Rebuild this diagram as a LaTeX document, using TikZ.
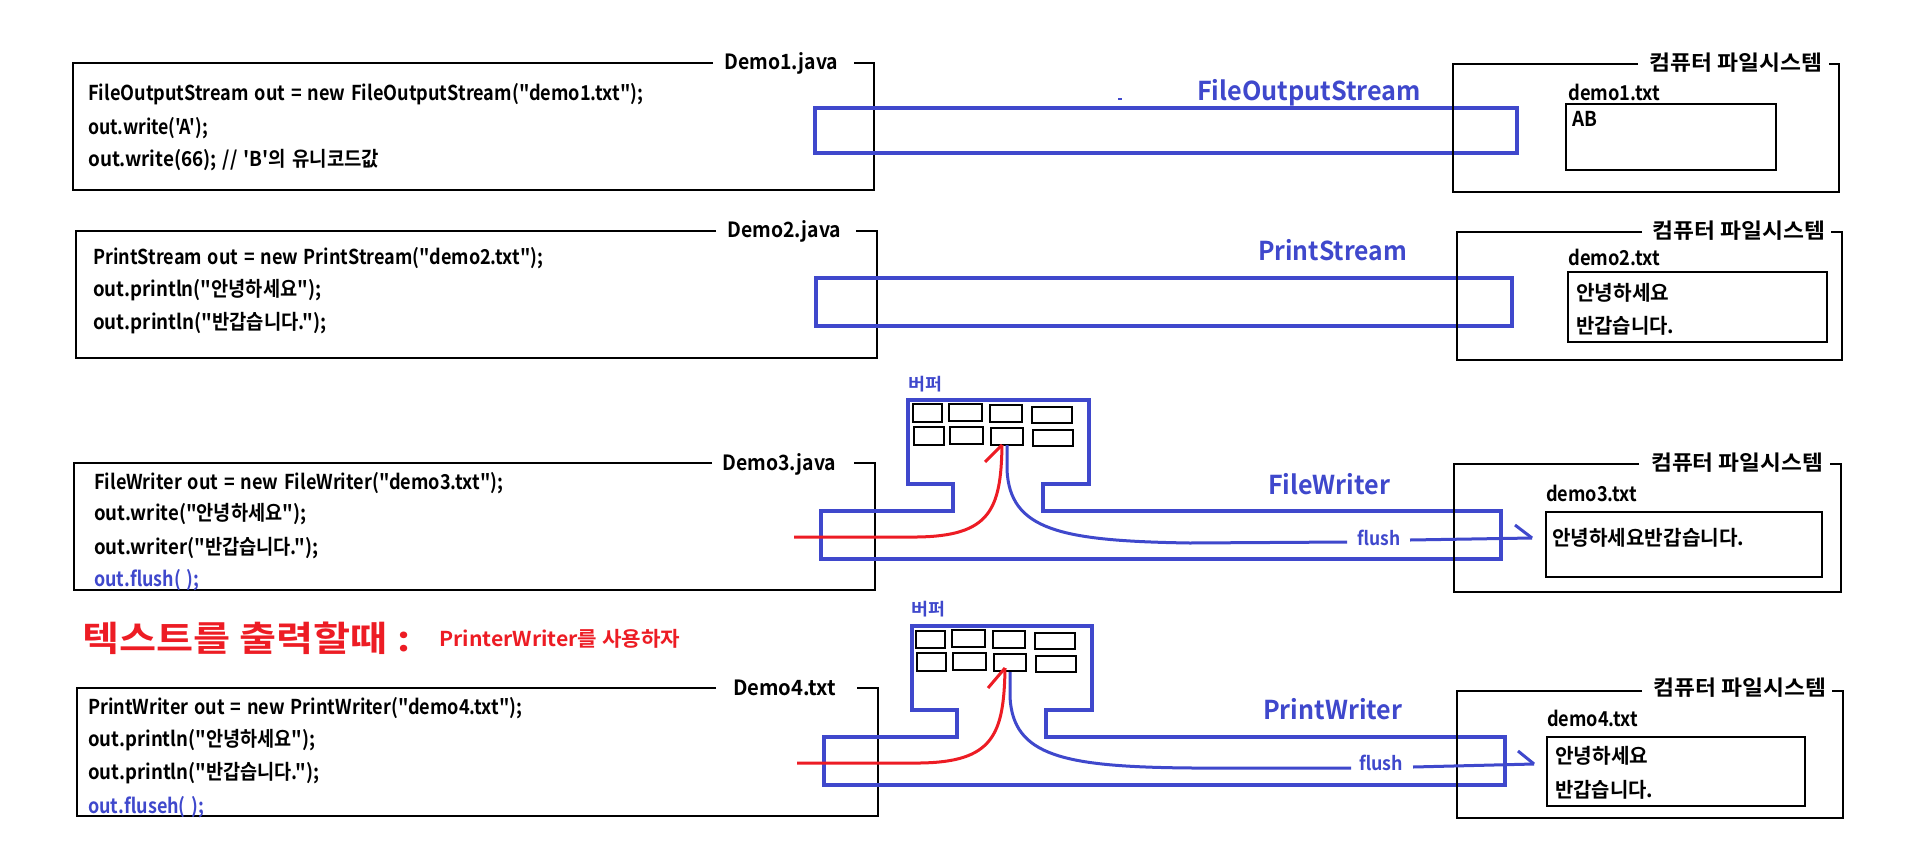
\documentclass[tikz,border=0pt]{standalone}
\usepackage{fontspec}
\usepackage{graphicx}
\newfontfamily\kr{Noto Sans CJK KR}[BoldFont={Noto Sans CJK KR Bold}]
\newcommand\W[2]{\resizebox{#1pt}{\height}{#2}}
\newcommand\WS[2]{\resizebox{#1pt}{\height}{\spaceskip=0.32em\relax #2}}
\definecolor{pblue}{RGB}{63,72,204}
\definecolor{pred}{RGB}{237,28,36}
\begin{document}
\begin{tikzpicture}[x=1pt,y=-1pt,
  frame/.style={draw=black,line width=1.4pt},
  cell/.style={draw=black,line width=1.1pt},
  pipe/.style={draw=pblue,line width=4pt},
  flow/.style={draw=pblue,line width=3pt},
  redflow/.style={draw=pred,line width=3pt},
  code/.style={anchor=base west,inner sep=0pt,font=\fontsize{20.5}{24}\selectfont\kr\bfseries},
  ttl/.style={anchor=base west,inner sep=0pt,font=\fontsize{21}{24}\selectfont\kr\bfseries},
  blab/.style={anchor=base west,inner sep=0pt,text=pblue,font=\fontsize{26}{30}\selectfont\kr\bfseries},
  flab/.style={anchor=base west,inner sep=0pt,text=pblue,font=\fontsize{19}{22}\selectfont\kr\bfseries},
  buflab/.style={anchor=base west,inner sep=0pt,text=pblue,font=\fontsize{17}{20}\selectfont\kr\bfseries}]
\useasboundingbox (0,0) rectangle (1908,846);
\fill[white] (0,0) rectangle (1908,846);

% ---------- Demo boxes ----------
\draw[frame] (713,63) -- (73,63) -- (73,190) -- (874,190) -- (874,63) -- (854,63);
\node[ttl] (t1) at (724,69) {\W{114}{Demo1.java}};
\node[code] (c11) at (88,100) {\WS{555}{FileOutputStream out = new FileOutputStream("demo1.txt");}};
\node[code] (c12) at (88,134) {\WS{120}{out.write('A');}};
\node[code] (c13) at (88,166) {\WS{291}{out.write(66); // 'B'의 유니코드값}};

\draw[frame] (716,231) -- (76,231) -- (76,358) -- (877,358) -- (877,231) -- (856,231);
\node[ttl] (t2) at (727,237) {\W{114}{Demo2.java}};
\node[code] (c21) at (93,264) {\WS{450}{PrintStream out = new PrintStream("demo2.txt");}};
\node[code] (c22) at (93,296) {\WS{228}{out.println("안녕하세요");}};
\node[code] (c23) at (93,329) {\WS{233}{out.println("반갑습니다.");}};

\draw[frame] (712,463) -- (74,463) -- (74,590) -- (875,590) -- (875,463) -- (854,463);
\node[ttl] (t3) at (722,470) {\W{114}{Demo3.java}};
\node[code] (c31) at (94,489) {\WS{409}{FileWriter out = new FileWriter("demo3.txt");}};
\node[code] (c32) at (94,520) {\WS{212}{out.write("안녕하세요");}};
\node[code] (c33) at (94,554) {\WS{224}{out.writer("반갑습니다.");}};
\node[code,text=pblue] (c34) at (94,586) {\WS{105}{out.flush( );}};

\draw[frame] (716,688) -- (77,688) -- (77,816) -- (878,816) -- (878,688) -- (857,688);
\node[ttl] (t4) at (733,695) {\W{103}{Demo4.txt}};
\node[code] (c41) at (88,714) {\WS{434}{PrintWriter out = new PrintWriter("demo4.txt");}};
\node[code] (c42) at (88,746) {\WS{227}{out.println("안녕하세요");}};
\node[code] (c43) at (88,779) {\WS{231}{out.println("반갑습니다.");}};
\node[code,text=pblue] (c44) at (88,813) {\WS{116}{out.fluseh( );}};

% ---------- red heading ----------
\node[anchor=base west,inner sep=0pt,text=pred,font=\fontsize{35}{40}\selectfont\kr\bfseries] (head) at (82,651) {\W{328}{텍스트를 출력할때 :}};
\node[anchor=base west,inner sep=0pt,text=pred,font=\fontsize{20.5}{24}\selectfont\kr\bfseries] (hint) at (439,646) {\W{241}{PrinterWriter를 사용하자}};

% ---------- pipes ----------
\draw[pipe] (815,108) rectangle (1517,153);
\node[blab] (l1) at (1197,100.5) {\W{224}{FileOutputStream}};
\draw[pblue,line width=1.5pt] (1118,99) -- (1122,99);
\draw[pipe] (816,278) rectangle (1512,326);
\node[blab] (l2) at (1258,260.5) {\W{149}{PrintStream}};

% row 3 buffer + pipe
\draw[pipe,line join=miter] (953,511) -- (821,511) -- (821,559) -- (1501,559) -- (1501,511) -- (1043,511) -- (1043,484) -- (1089,484) -- (1089,400) -- (908,400) -- (908,484) -- (953,484) -- cycle;
\node[buflab] (b3) at (908,390.5) {\W{34}{버퍼}};
\draw[cell] (913,404) rectangle (942,422);
\draw[cell] (949,404) rectangle (982,421);
\draw[cell] (990,405) rectangle (1022,422);
\draw[cell] (1032,407) rectangle (1072,423);
\draw[cell] (914,427) rectangle (944,445);
\draw[cell] (950,427) rectangle (983,444);
\draw[cell] (991,428) rectangle (1023,445);
\draw[cell] (1033,430) rectangle (1073,446);
\node[blab] (l3) at (1268,494.5) {\W{122}{FileWriter}};

% row 4 buffer + pipe
\draw[pipe,line join=miter] (957,737) -- (824,737) -- (824,785) -- (1505,785) -- (1505,737) -- (1046,737) -- (1046,710) -- (1092,710) -- (1092,626) -- (912,626) -- (912,710) -- (957,710) -- cycle;
\node[buflab] (b4) at (911,615.5) {\W{34}{버퍼}};
\draw[cell] (916,631) rectangle (945,648);
\draw[cell] (952,630) rectangle (985,647);
\draw[cell] (993,631) rectangle (1025,648);
\draw[cell] (1035,633) rectangle (1075,649);
\draw[cell] (917,653) rectangle (946,671);
\draw[cell] (953,653) rectangle (986,670);
\draw[cell] (994,654) rectangle (1026,671);
\draw[cell] (1036,656) rectangle (1076,672);
\node[blab] (l4) at (1263,719.5) {\W{139}{PrintWriter}};

% ---------- file systems ----------
\draw[frame] (1638,64) -- (1453,64) -- (1453,192) -- (1839,192) -- (1839,64) -- (1829,64);
\node[ttl] (f1) at (1649,70) {\W{173}{컴퓨터 파일시스템}};
\node[code] (n1) at (1568,100) {\W{92}{demo1.txt}};
\draw[frame] (1566,104) rectangle (1776,170);
\node[code] (a1) at (1572,126) {\W{25}{AB}};

\draw[frame] (1642,232) -- (1457,232) -- (1457,360) -- (1842,360) -- (1842,232) -- (1831,232);
\node[ttl] (f2) at (1652,238) {\W{173}{컴퓨터 파일시스템}};
\node[code] (n2) at (1568,265) {\W{92}{demo2.txt}};
\draw[frame] (1568,272) rectangle (1827,342);
\node[code] (a21) at (1576,300) {\W{93}{안녕하세요}};
\node[code] (a22) at (1576,333) {\W{98}{반갑습니다.}};

\draw[frame] (1639,464) -- (1454,464) -- (1454,592) -- (1841,592) -- (1841,464) -- (1830,464);
\node[ttl] (f3) at (1651,470) {\W{172}{컴퓨터 파일시스템}};
\node[code] (n3) at (1546,501) {\W{91}{demo3.txt}};
\draw[frame] (1546,512) rectangle (1822,577);
\node[code] (a3) at (1552,545) {\W{192}{안녕하세요반갑습니다.}};

\draw[frame] (1642,691) -- (1457,691) -- (1457,818) -- (1843,818) -- (1843,691) -- (1832,691);
\node[ttl] (f4) at (1653,695) {\W{173}{컴퓨터 파일시스템}};
\node[code] (n4) at (1547,726) {\W{91}{demo4.txt}};
\draw[frame] (1547,737) rectangle (1805,806);
\node[code] (a41) at (1555,763) {\W{93}{안녕하세요}};
\node[code] (a42) at (1555,797) {\W{98}{반갑습니다.}};

% ---------- flows row 3 ----------
\coordinate (r3s) at (794,537);
\coordinate (r3t) at (1002,445);
\draw[redflow] (r3s) -- (917,537) .. controls (990,536) and (1001,510) .. (r3t);
\draw[redflow] (985,462) -- (r3t);
\coordinate (b3s) at (1007,445);
\node[flab] (fl3) at (1357,545.5) {\W{43}{flush}};
\coordinate (b3e) at (1532,538);
\draw[flow] (b3s) -- (1007,470) .. controls (1010,530) and (1060,541) .. (1190,543) -- (1347,542);
\draw[flow] (1410,540) -- (b3e);
\draw[flow] (1515,525) -- (b3e);

% ---------- flows row 4 ----------
\coordinate (r4s) at (797,763);
\coordinate (r4t) at (1005,668);
\draw[redflow] (r4s) -- (920,763) .. controls (993,762) and (1004,735) .. (r4t);
\draw[redflow] (988,688) -- (r4t);
\coordinate (b4s) at (1010,672);
\node[flab] (fl4) at (1359,770.5) {\W{44}{flush}};
\coordinate (b4e) at (1534,764);
\draw[flow] (b4s) -- (1010,697) .. controls (1013,756) and (1063,767) .. (1193,768) -- (1351,768);
\draw[flow] (1413,767) -- (b4e);
\draw[flow] (1518,751) -- (b4e);
\end{tikzpicture}
\end{document}
